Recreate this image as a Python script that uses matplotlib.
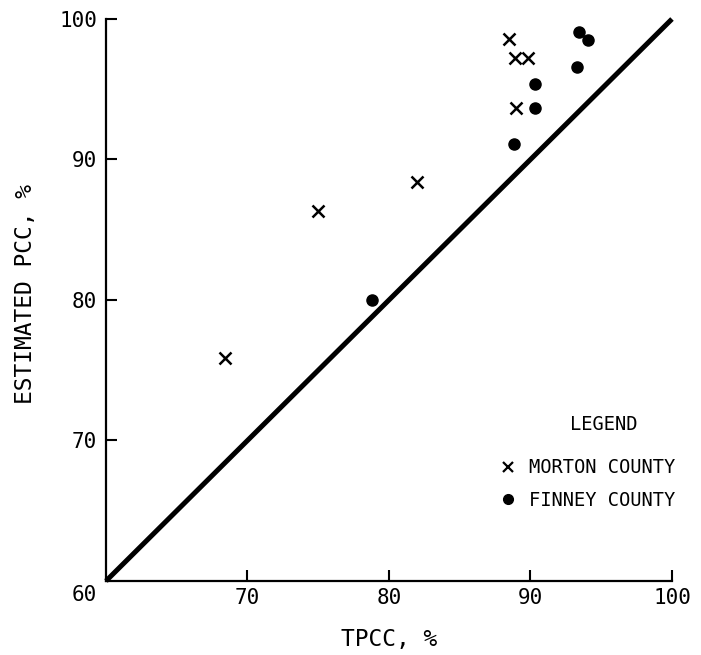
import matplotlib
matplotlib.use("Agg")
import matplotlib.pyplot as plt
from matplotlib.lines import Line2D

plt.rcParams['font.family'] = ['DejaVu Sans Mono', 'DejaVu Sans']

# values
morton_tpcc = [68.4, 75.0, 82.0, 88.5, 88.9, 89.8, 89.0]
morton_pcc = [75.9, 86.3, 88.4, 98.6, 97.2, 97.2, 93.7]
finney_tpcc = [78.8, 93.4, 94.1, 93.3, 90.3, 90.3, 88.8]
finney_pcc = [80.0, 99.1, 98.5, 96.6, 95.4, 93.7, 91.1]
equal_line = [60, 100]
ticks = [70, 80, 90, 100]

fig = plt.figure(figsize=(7.01, 6.55), dpi=100)
ax = fig.add_axes([0.1512, 0.1130, 0.8074, 0.8580])

ax.plot(equal_line, equal_line, color='black', linewidth=3.6,
        solid_capstyle='butt', clip_on=False, zorder=2)
ax.plot(morton_tpcc, morton_pcc, linestyle='none', marker='x',
        markersize=8, markeredgewidth=1.8, color='black', zorder=3)
ax.plot(finney_tpcc, finney_pcc, linestyle='none', marker='o',
        markersize=8, color='black', zorder=3)

ax.set_xlim(60, 100)
ax.set_ylim(60, 100)
ax.set_xticks(ticks)
ax.set_yticks(ticks)
ax.tick_params(direction='in', length=8, width=1.5, labelsize=15)
ax.tick_params(axis='x', pad=5)
ax.tick_params(axis='y', pad=6.5)

for side in ['top', 'right']:
    ax.spines[side].set_visible(False)
for side in ['left', 'bottom']:
    ax.spines[side].set_linewidth(1.6)

# shared origin label in the corner
ax.annotate("60", xy=(60, 60), xytext=(-22, -14), textcoords='offset pixels',
            ha='center', va='center', fontsize=15, annotation_clip=False)

ax.set_xlabel("TPCC, %", fontsize=16.5)
ax.set_ylabel("ESTIMATED PCC, %", fontsize=16.5)
ax.xaxis.set_label_coords(0.5, -0.084)
ax.yaxis.set_label_coords(-0.122, 0.51)

ax.text(0.88, 0.295, "LEGEND", transform=ax.transAxes, ha='center',
        va='top', fontsize=13.5)
handles = [
    Line2D([], [], linestyle='none', marker='x', markersize=7,
           markeredgewidth=1.6, color='black'),
    Line2D([], [], linestyle='none', marker='o', markersize=7,
           color='black'),
]
ax.legend(handles, ["MORTON COUNTY", "FINNEY COUNTY"], loc='upper right',
          bbox_to_anchor=(1.005, 0.218), frameon=False, fontsize=13.5,
          handlelength=1.0, handletextpad=0.6, labelspacing=0.72,
          borderpad=0, borderaxespad=0)

fig.savefig("out.png", dpi=100, facecolor='white')
